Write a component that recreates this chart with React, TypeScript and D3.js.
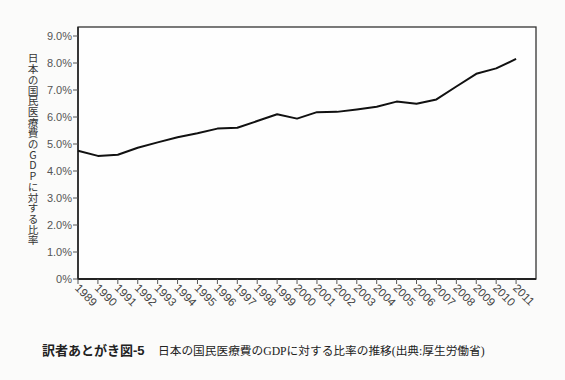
import React from "react";
import * as d3 from "d3";

const years = [1989,1990,1991,1992,1993,1994,1995,1996,1997,1998,1999,2000,2001,2002,2003,2004,2005,2006,2007,2008,2009,2010,2011];
const ratios = [4.75,4.56,4.6,4.86,5.06,5.25,5.4,5.57,5.6,5.85,6.1,5.94,6.18,6.19,6.28,6.38,6.57,6.49,6.65,7.13,7.6,7.8,8.15];
const yTicks = [0,1,2,3,4,5,6,7,8,9];
const yLabel = "日本の国民医療費のGDPに対する比率";
const captionBold = "訳者あとがき図-5";
const captionText = "日本の国民医療費のGDPに対する比率の推移(出典:厚生労働省)";

const W = 565, H = 380;
const left = 78, right = 536, top = 27, bottom = 279;

export default function App() {
  const x = d3.scaleLinear().domain([1989, 2012]).range([left, right]);
  const y = d3.scaleLinear().domain([0, 9]).range([bottom, bottom - 9 * 27]);
  const line = d3.line<number>().x((_, i) => x(years[i])).y((d) => y(d));
  const sans = "'Liberation Sans', Arial, 'Noto Sans CJK JP', sans-serif";
  return (
    <svg width={W} height={H} style={{ position: "absolute", left: 0, top: 0, background: "#fbfbfa" }}>
      <rect x={0} y={0} width={W} height={H} fill="#fbfbfa" />
      <rect x={left} y={top} width={right - left} height={bottom - top} fill="#fefefe" stroke="#333" strokeWidth={1.3} />
      <line x1={left} x2={left} y1={top} y2={bottom} stroke="#222" strokeWidth={1.5} />
      <line x1={left} x2={right} y1={bottom} y2={bottom} stroke="#222" strokeWidth={1.8} />
      {yTicks.map((t) => (
        <g key={t}>
          <line x1={left - 5} x2={left} y1={y(t)} y2={y(t)} stroke="#555" strokeWidth={1} />
          <text x={left - 6} y={y(t)} dy="0.35em" textAnchor="end" fontFamily={sans} fontSize={11} fill="#555">
            {t === 0 ? "0%" : `${t.toFixed(1)}%`}
          </text>
        </g>
      ))}
      {years.map((yr) => (
        <g key={yr} transform={`translate(${x(yr)},${bottom})`}>
          <line y1={0} y2={5} stroke="#555" strokeWidth={1} />
          <text transform="translate(-1,7) rotate(45)" fontFamily={sans} fontSize={11.5} fill="#444" dy="0.35em">
            {yr}
          </text>
        </g>
      ))}
      <path d={line(ratios) || ""} fill="none" stroke="#111" strokeWidth={2} strokeLinejoin="round" />
      <text
        x={33}
        y={53}
        fontFamily="'Noto Sans CJK JP', sans-serif"
        fontSize={10.7}
        fill="#333"
        style={{ writingMode: "vertical-rl", textOrientation: "upright" } as any}
      >
        {yLabel}
      </text>
      <text x={42} y={355} fontFamily={"'Liberation Sans', 'Noto Sans CJK JP', sans-serif"} fontSize={13} fontWeight="bold" fill="#222">
        {captionBold}
      </text>
      <text x={158} y={355} fontFamily={"'Liberation Serif', 'Noto Sans CJK JP', serif"} fontSize={11.7} fill="#222">
        {captionText}
      </text>
    </svg>
  );
}
